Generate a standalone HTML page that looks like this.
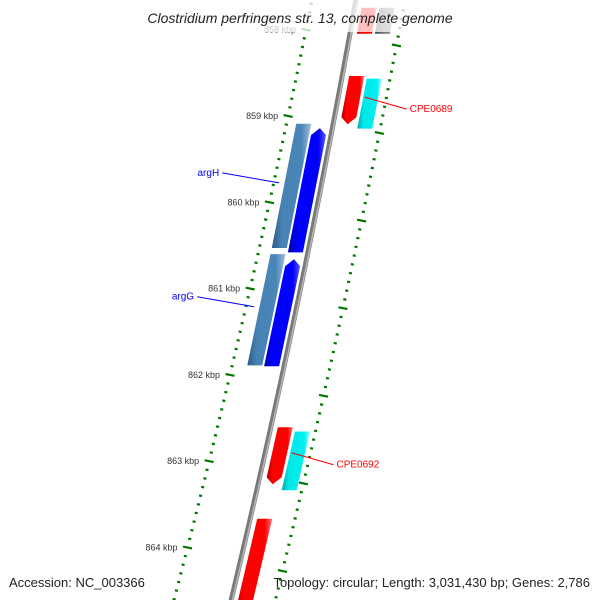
<!DOCTYPE html>
<html><head><meta charset="utf-8"><style>
body{margin:0;background:#fff}
svg{display:block}
text{font-family:"Liberation Sans","DejaVu Sans",sans-serif}
</style></head><body>
<svg id="map" width="600" height="600" viewBox="0 0 600 600">
<defs>
<linearGradient id="g-steel" x1="0" x2="1" y1="0" y2="0"><stop offset="0" stop-color="#2a5a86"/><stop offset="0.25" stop-color="#4682b4"/><stop offset="0.75" stop-color="#4a86b8"/><stop offset="1" stop-color="#9dbedb"/></linearGradient>
<linearGradient id="g-blue" x1="0" x2="1" y1="0" y2="0"><stop offset="0" stop-color="#0000a8"/><stop offset="0.25" stop-color="#0000ff"/><stop offset="0.8" stop-color="#0000ff"/><stop offset="1" stop-color="#5a5aff"/></linearGradient>
<linearGradient id="g-red" x1="0" x2="1" y1="0" y2="0"><stop offset="0" stop-color="#b00000"/><stop offset="0.25" stop-color="#ff0000"/><stop offset="0.8" stop-color="#ff0000"/><stop offset="1" stop-color="#ff7070"/></linearGradient>
<linearGradient id="g-cyan" x1="0" x2="1" y1="0" y2="0"><stop offset="0" stop-color="#00a8a8"/><stop offset="0.25" stop-color="#00e8e8"/><stop offset="0.8" stop-color="#00f0f0"/><stop offset="1" stop-color="#90ffff"/></linearGradient>
<linearGradient id="g-gray" x1="0" x2="1" y1="0" y2="0"><stop offset="0" stop-color="#444"/><stop offset="0.3" stop-color="#666"/><stop offset="1" stop-color="#999"/></linearGradient>
</defs>
<g id="ticks"></g>
<g id="backbone"></g>
<g id="genes"></g>
<g id="labels"></g>
<rect x="0" y="0" width="600" height="32" fill="#fff" opacity="0.75"/>
<text x="300" y="23" text-anchor="middle" font-size="14" font-style="italic" fill="#222">Clostridium perfringens str. 13, complete genome</text>
<text x="9" y="587" font-size="13" fill="#222">Accession: NC_003366</text>
<text x="590" y="587" text-anchor="end" font-size="13" fill="#222">Topology: circular; Length: 3,031,430 bp; Genes: 2,786</text>
</svg>
<script>
const majorTicks = [858, 859, 860, 861, 862, 863, 864];
const tickRangeStart = 857.6;
const tickRangeEnd = 864.6;
const geneNames = ["top-red", "top-gray", "CPE0689", "CPE0689-cds", "argH", "argH-cds", "argG", "argG-cds", "CPE0692", "CPE0692-cds", "bottom-red"];
const geneStarts = [857.7, 857.7, 858.49, 858.52, 859.09, 859.14, 860.60, 860.66, 862.56, 862.61, 863.62];
const geneEnds = [858.0, 858.0, 859.05, 859.10, 860.53, 860.58, 861.89, 861.90, 863.22, 863.29, 864.75];
const geneTracks = ["red", "gray", "red", "cyan", "steel", "blue", "steel", "blue", "red", "cyan", "red"];
const geneArrows = ["none", "none", "end", "none", "none", "start", "none", "start", "end", "none", "none"];
const labelTexts = ["CPE0689", "argH", "argG", "CPE0692"];
const labelGene = [2, 4, 6, 8];

const NS = "http://www.w3.org/2000/svg";
function yOf(k){ return 116 + (k - 859) * 86.3; }
function yRight(k){ return 133 + (k - 859) * 87.6; }
function xb(y){ return 356 - 0.178*y - 0.00005*y*y; }
const trackOff = {steel:[-37,-22], blue:[-20,-5], red:[7,22], cyan:[25,40], gray:[25,40]};
function mk(tag, attrs, parent){ const e=document.createElementNS(NS,tag); for(const k in attrs) e.setAttribute(k, attrs[k]); parent.appendChild(e); return e; }

// backbone
const bb = document.getElementById('backbone');
let pts=[], pts2=[];
for(let y=-10;y<=610;y+=10){ pts.push(xb(y)+','+y); pts2.push((xb(y)+1.2)+','+y); }
const bl = mk('polyline',{points:pts.join(' '),fill:'none',stroke:'#7a7a7a','stroke-width':5},bb);


const bh = mk('polyline',{points:pts2.join(' '),fill:'none',stroke:'#b8b8b8','stroke-width':1.5},bb);



// ticks
const tg = document.getElementById('ticks');
for(let i=Math.round(tickRangeStart*10); i<=Math.round(tickRangeEnd*10); i++){
  const k=i/10, major = (i%10===0);
  const y=yOf(k), yr=yRight(k);
  const lo = -44 - 0.022*y, ro = 49 - 0.008*yr;
  const len = major?9:3;
  const x1=xb(y)+lo;
  const t1 = mk('line',{x1:x1-len/2,y1:y-len*0.1,x2:x1+len/2,y2:y+len*0.1,stroke:'#007700','stroke-width':2.2},tg);
  
  
  const x2=xb(yr)+ro;
  const t2 = mk('line',{x1:x2-len/2,y1:yr-len*0.1,x2:x2+len/2,y2:yr+len*0.1,stroke:'#007700','stroke-width':2.2},tg);
  
  
  if(major){
    const tl = mk('text',{x:x1-10,y:y+3,'text-anchor':'end','font-size':9,fill:'#333'},tg);
    tl.textContent = k + ' kbp';
    
    
  }
}

// genes
const gg = document.getElementById('genes');
const centers=[];
for(let i=0;i<geneNames.length;i++){
  const tr=geneTracks[i], off=trackOff[tr];
  const right = (tr==='red'||tr==='cyan'||tr==='gray');
  const map = right? (k=>yOf(k)+4) : yOf;
  let y1=map(geneStarts[i]), y2=map(geneEnds[i]);
  const a=off[0], b=off[1], m=(a+b)/2;
  let p;
  if(geneArrows[i]==='start'){
    p=[[xb(y1+7)+a,y1+7],[xb(y1)+m,y1],[xb(y1+7)+b,y1+7],[xb(y2)+b,y2],[xb(y2)+a,y2]];
  } else if(geneArrows[i]==='end'){
    p=[[xb(y1)+a,y1],[xb(y1)+b,y1],[xb(y2-7)+b,y2-7],[xb(y2)+m,y2],[xb(y2-7)+a,y2-7]];
  } else {
    p=[[xb(y1)+a,y1],[xb(y1)+b,y1],[xb(y2)+b,y2],[xb(y2)+a,y2]];
  }
  const pg = mk('polygon',{points:p.map(q=>q[0].toFixed(1)+','+q[1].toFixed(1)).join(' '),fill:'url(#g-'+tr+')'},gg);
  
  
  const yc=(y1+y2)/2;
  centers.push([xb(yc)+(right?b:a), yc]);
}

// labels
const lg = document.getElementById('labels');
for(let j=0;j<labelTexts.length;j++){
  const gi=labelGene[j], c=centers[gi];
  const right = geneTracks[gi]==='red';
  const col = right?'#ff0000':'#0000ff';
  let lx, ly;
  if(right){ lx=c[0]+47; ly=c[1]+12; } else { lx=c[0]-62; ly=c[1]-10; }
  const ln = mk('line',{x1:right?c[0]+5:c[0]-5,y1:c[1]+(right?-3:-3),x2:right?lx:lx,y2:ly-3,stroke:col,'stroke-width':1},lg);
  
  
  const tx = mk('text',{x:right?lx+3:lx-3,y:ly,'text-anchor':right?'start':'end','font-size':10,fill:col},lg);
  tx.textContent=labelTexts[j];
  
  
}
</script>
</body></html>
